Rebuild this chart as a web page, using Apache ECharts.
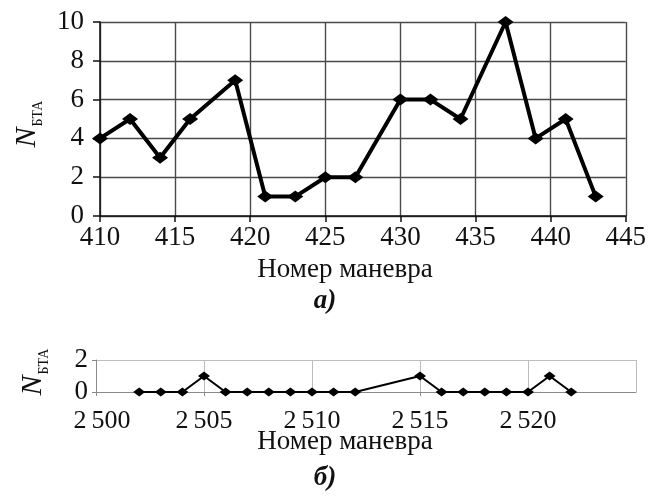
<!DOCTYPE html>
<html>
<head>
<meta charset="utf-8">
<script src="https://cdn.jsdelivr.net/npm/echarts@6/dist/echarts.min.js"></script>
<style>
  html, body { margin: 0; padding: 0; background: #fff; }
  #chart { width: 649px; height: 498px; }
</style>
</head>
<body>
<div id="chart"></div>
<script>
// Panel a: maneuvers 410–445
const maneuversA = [410, 412, 414, 416, 419, 421, 423, 425, 427, 430, 432, 434, 437, 439, 441, 443];
const countsA    = [4, 5, 3, 5, 7, 1, 1, 2, 2, 6, 6, 5, 10, 4, 5, 1];

// Panel b: maneuvers 2500–2525
const maneuversB = [2502, 2503, 2504, 2505, 2506, 2507, 2508, 2509, 2510, 2511, 2512,
                    2515, 2516, 2517, 2518, 2519, 2520, 2521, 2522];
const countsB    = [0, 0, 0, 1, 0, 0, 0, 0, 0, 0, 0, 1, 0, 0, 0, 0, 0, 1, 0];

const axisTitle = 'Номер маневра';
const yTitleMain = 'N';
const yTitleSub = 'БТА';

const serif = "'Liberation Serif', 'Times New Roman', 'DejaVu Serif', serif";

const pairs = (xs, ys) => xs.map((x, i) => [x, ys[i]]);
const thinThousands = v => String(v).replace(/^(\d)(\d{3})$/, '$1\u2009$2');

const chart = echarts.init(document.getElementById('chart'), null, { renderer: 'canvas' });

function yName(x, y) {
  return {
    type: 'text',
    x: x, y: y,
    rotation: Math.PI / 2,
    style: {
      text: '{n|' + yTitleMain + '}{s|' + yTitleSub + '}',
      align: 'center',
      verticalAlign: 'middle',
      rich: {
        n: { fontFamily: serif, fontStyle: 'italic', fontSize: 30, fill: '#111', verticalAlign: 'bottom' },
        s: { fontFamily: serif, fontSize: 14, fill: '#111', verticalAlign: 'bottom', padding: [0, 0, -3, 1] }
      }
    }
  };
}

function caption(text, y) {
  return {
    type: 'text', x: 345, y: y,
    style: { text: text, fontFamily: serif, fontSize: 27, fill: '#111', align: 'center', verticalAlign: 'middle' }
  };
}

function panelMark(text, y) {
  return {
    type: 'text', x: 325, y: y,
    style: { text: text, fontFamily: serif, fontSize: 27, fontStyle: 'italic', fontWeight: 'bold', fill: '#111', align: 'center', verticalAlign: 'middle' }
  };
}

chart.setOption({
  animation: false,
  backgroundColor: '#fff',
  grid: [
    { left: 100, top: 22, width: 529, height: 194 },
    { left: 96, top: 360, width: 540, height: 32 }
  ],
  xAxis: [
    {
      gridIndex: 0, type: 'value', min: 410, max: 445, interval: 5,
      axisLine: { show: true, onZero: false, lineStyle: { color: '#111', width: 1.5 } },
      axisTick: { show: true, inside: false, length: 6, lineStyle: { color: '#111', width: 1.5 } },
      axisLabel: { margin: 8, fontFamily: serif, fontSize: 27, color: '#111' },
      splitLine: { show: true, lineStyle: { color: '#4a4a4a', width: 1.4 } }
    },
    {
      gridIndex: 1, type: 'value', min: 2500, max: 2525, interval: 5,
      axisLine: { show: true, onZero: false, lineStyle: { color: '#8a8a8a', width: 1 } },
      axisTick: { show: true, inside: false, length: 4, lineStyle: { color: '#8a8a8a', width: 1 } },
      axisLabel: {
        margin: 16, fontFamily: serif, fontSize: 26, color: '#111',
        showMaxLabel: false,
        formatter: v => (v === 2500 ? '{first|' + thinThousands(v) + '}' : thinThousands(v)),
        rich: { first: { fontFamily: serif, fontSize: 26, color: '#111', padding: [0, 0, 0, 12] } }
      },
      splitLine: { show: true, lineStyle: { color: '#bdbdbd', width: 1 } }
    }
  ],
  yAxis: [
    {
      gridIndex: 0, type: 'value', min: 0, max: 10, interval: 2,
      axisLine: { show: true, onZero: false, lineStyle: { color: '#111', width: 1.5 } },
      axisTick: { show: true, inside: false, length: 7, lineStyle: { color: '#111', width: 1.5 } },
      axisLabel: { margin: 16, fontFamily: serif, fontSize: 27, color: '#111' },
      splitLine: { show: true, lineStyle: { color: '#4a4a4a', width: 1.4 } }
    },
    {
      gridIndex: 1, type: 'value', min: 0, max: 2, interval: 2,
      axisLine: { show: true, onZero: false, lineStyle: { color: '#8a8a8a', width: 1 } },
      axisTick: { show: true, inside: false, length: 4, lineStyle: { color: '#8a8a8a', width: 1 } },
      axisLabel: { margin: 8, fontFamily: serif, fontSize: 27, color: '#111' },
      splitLine: { show: true, lineStyle: { color: '#bdbdbd', width: 1 } }
    }
  ],
  series: [
    {
      type: 'line', xAxisIndex: 0, yAxisIndex: 0,
      data: pairs(maneuversA, countsA),
      lineStyle: { color: '#000', width: 4 },
      symbol: 'diamond', symbolSize: [16, 12],
      itemStyle: { color: '#000' },
      clip: false
    },
    {
      type: 'line', xAxisIndex: 1, yAxisIndex: 1,
      data: pairs(maneuversB, countsB),
      lineStyle: { color: '#000', width: 2 },
      symbol: 'diamond', symbolSize: [12, 9],
      itemStyle: { color: '#000' },
      clip: false
    }
  ],
  graphic: [
    yName(27, 124),
    yName(33, 372),
    caption(axisTitle, 270),
    panelMark('а)', 301),
    caption(axisTitle, 442),
    panelMark('б)', 478)
  ]
});
</script>
</body>
</html>
